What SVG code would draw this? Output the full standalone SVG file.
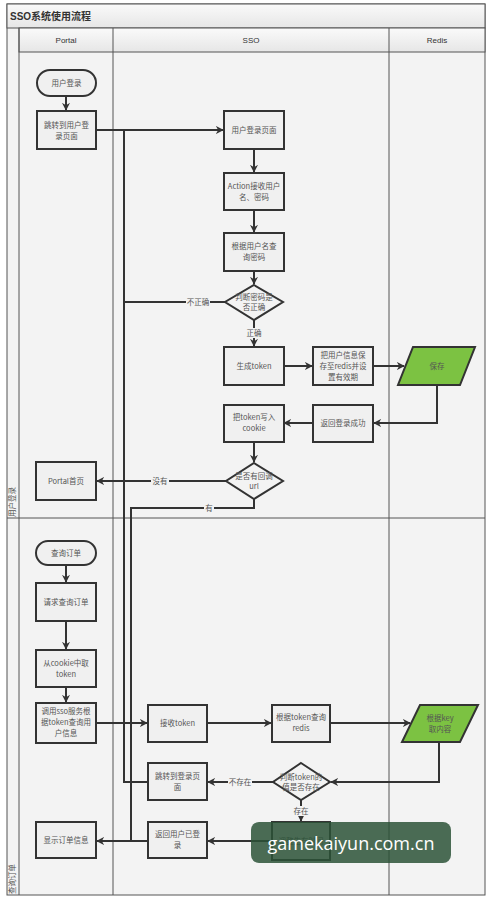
<svg xmlns="http://www.w3.org/2000/svg" width="490" height="902" viewBox="0 0 490 902">
<defs>
<linearGradient id="hdr" x1="0" y1="0" x2="0" y2="1"><stop offset="0" stop-color="#fafafa"/><stop offset="1" stop-color="#e6e6e6"/></linearGradient>
<marker id="ah" viewBox="0 0 10 10" refX="9" refY="5" markerWidth="4" markerHeight="4" orient="auto"><path d="M0,0 L10,5 L0,10 L3,5 Z" fill="#333"/></marker>
<style>
.t{font-family:"Noto Sans CJK SC","Liberation Sans",sans-serif;font-size:7.5px;fill:#555;text-anchor:middle;}
.h{font-family:"Liberation Sans","Noto Sans CJK SC",sans-serif;font-size:8px;fill:#333;text-anchor:middle;}
.lbl{font-family:"Noto Sans CJK SC",sans-serif;font-size:7.5px;fill:#555;text-anchor:middle;}
.box{fill:#f0f0f0;stroke:#333;stroke-width:2;}
.term{fill:#f0f0f0;stroke:#333;stroke-width:2;}
.data{fill:#7cc242;stroke:#333;stroke-width:2;}
.dec{fill:#f3f3f3;stroke:#333;stroke-width:2;}
.c{fill:none;stroke:#333;stroke-width:2;}
.a{marker-end:url(#ah);}
.lane{fill:none;stroke:#555;stroke-width:1;}
.lb{fill:#f3f3f3;}
</style>
</defs>
<rect x="0" y="0" width="490" height="902" fill="#ffffff"/>
<g id="frame">
<rect x="7" y="4" width="478" height="891" fill="#f3f3f3" stroke="#555" stroke-width="1"/>
<rect x="7" y="4" width="478" height="24" fill="url(#hdr)" stroke="#555" stroke-width="1"/>
<text x="10" y="20" font-family="Liberation Sans,'Noto Sans CJK SC',sans-serif" font-size="10" font-weight="bold" fill="#333">SSO系统使用流程</text>
<rect x="19" y="28" width="466" height="24" fill="url(#hdr)" stroke="#555" stroke-width="1"/>
<line class="lane" x1="19" y1="28" x2="19" y2="895"/>
<line class="lane" x1="113" y1="28" x2="113" y2="895"/>
<line class="lane" x1="389" y1="28" x2="389" y2="895"/>
<line class="lane" x1="7" y1="518" x2="485" y2="518"/>
<text class="h" x="66" y="43">Portal</text>
<text class="h" x="251" y="43">SSO</text>
<text class="h" x="437" y="43">Redis</text>
<text class="lbl" transform="translate(15,502) rotate(-90)" font-size="6">用户登录</text>
<text class="lbl" transform="translate(15,879) rotate(-90)" font-size="6">查询订单</text>
</g>
<g id="connectors">
<path class="c a" d="M66,96 V110"/>
<path class="c a" d="M96,130 H223"/>
<path class="c" d="M148,782 H124 V130"/>
<path class="c a" d="M254,149 V172"/>
<path class="c a" d="M254,210 V232"/>
<path class="c a" d="M254,271 V284"/>
<path class="c" d="M227,302 H124"/>
<path class="c a" d="M254,320 V346"/>
<path class="c a" d="M283,366 H312"/>
<path class="c a" d="M373,366 H404"/>
<path class="c a" d="M437,385 V423 H374"/>
<path class="c a" d="M313,423 H284"/>
<path class="c a" d="M254,442 V462"/>
<path class="c a" d="M226,481 H97"/>
<path class="c" d="M254,499 V508 H131 V841"/>
<path class="c a" d="M66,565 V582"/>
<path class="c a" d="M66,621 V649"/>
<path class="c a" d="M66,687 V702"/>
<path class="c a" d="M96,723 H147"/>
<path class="c a" d="M207,723 H271"/>
<path class="c a" d="M330,723 H410"/>
<path class="c a" d="M439,742 V782 H331"/>
<path class="c a" d="M273,782 H208"/>
<path class="c a" d="M301,800 V821"/>
<path class="c a" d="M272,841 H208"/>
<path class="c a" d="M148,841 H97"/>
<rect class="lb" x="186" y="297" width="24" height="10"/>
<text class="lbl" x="198" y="305">不正确</text>
<rect class="lb" x="245" y="328" width="18" height="10"/>
<text class="lbl" x="254" y="336">正确</text>
<rect class="lb" x="151" y="476" width="18" height="10"/>
<text class="lbl" x="160" y="484">没有</text>
<rect class="lb" x="204" y="503" width="10" height="10"/>
<text class="lbl" x="209" y="511">有</text>
<rect class="lb" x="228" y="777" width="24" height="10"/>
<text class="lbl" x="240" y="785">不存在</text>
<rect class="lb" x="292" y="806" width="18" height="10"/>
<text class="lbl" x="301" y="814">存在</text>
</g>
<g id="n_login">
<rect class="term" x="37" y="70" width="59" height="26" rx="13"/>
<text class="t" x="66.5" y="86">用户登录</text>
</g>
<g id="n_redirect">
<rect class="box" x="37" y="111" width="59" height="38"/>
<text class="t" x="66.5" y="128">跳转到用户登</text>
<text class="t" x="66.5" y="139">录页面</text>
</g>
<g id="n_loginpage">
<rect class="box" x="224" y="111" width="60" height="38"/>
<text class="t" x="254" y="133">用户登录页面</text>
</g>
<g id="n_action">
<rect class="box" x="224" y="173" width="60" height="37"/>
<text class="t" x="254" y="189">Action接收用户</text>
<text class="t" x="254" y="200">名、密码</text>
</g>
<g id="n_querypwd">
<rect class="box" x="224" y="233" width="60" height="38"/>
<text class="t" x="254" y="249">根据用户名查</text>
<text class="t" x="254" y="260">询密码</text>
</g>
<g id="n_checkpwd">
<polygon class="dec" points="254,285 283,302 254,320 225,302"/>
<text class="t" x="254" y="300">判断密码是</text>
<text class="t" x="254" y="310">否正确</text>
</g>
<g id="n_gentoken">
<rect class="box" x="224" y="347" width="60" height="38"/>
<text class="t" x="254" y="369">生成token</text>
</g>
<g id="n_saveinfo">
<rect class="box" x="313" y="347" width="60" height="38"/>
<text class="t" x="343" y="358">把用户信息保</text>
<text class="t" x="343" y="369">存至redis并设</text>
<text class="t" x="343" y="380">置有效期</text>
</g>
<g id="n_save">
<polygon class="data" points="413,347 475,347 460,385 398,385"/>
<text class="t" x="437" y="369" fill="#333">保存</text>
</g>
<g id="n_loginok">
<rect class="box" x="313" y="405" width="60" height="37"/>
<text class="t" x="343" y="426">返回登录成功</text>
</g>
<g id="n_cookie">
<rect class="box" x="224" y="405" width="60" height="37"/>
<text class="t" x="254" y="420">把token写入</text>
<text class="t" x="254" y="431">cookie</text>
</g>
<g id="n_callback">
<polygon class="dec" points="254,463 283,481 254,499 226,481"/>
<text class="t" x="254" y="479">是否有回调</text>
<text class="t" x="254" y="489">url</text>
</g>
<g id="n_portalhome">
<rect class="box" x="36" y="462" width="60" height="38"/>
<text class="t" x="66" y="484">Portal首页</text>
</g>
<g id="n_queryorder">
<rect class="term" x="36" y="541" width="60" height="24" rx="12"/>
<text class="t" x="66" y="556">查询订单</text>
</g>
<g id="n_reqorder">
<rect class="box" x="36" y="583" width="60" height="38"/>
<text class="t" x="66" y="605">请求查询订单</text>
</g>
<g id="n_gettoken">
<rect class="box" x="36" y="650" width="60" height="37"/>
<text class="t" x="66" y="666">从cookie中取</text>
<text class="t" x="66" y="677">token</text>
</g>
<g id="n_callsso">
<rect class="box" x="36" y="703" width="60" height="40"/>
<text class="t" x="66" y="714">调用sso服务根</text>
<text class="t" x="66" y="725">据token查询用</text>
<text class="t" x="66" y="736">户信息</text>
</g>
<g id="n_recvtoken">
<rect class="box" x="148" y="705" width="59" height="37"/>
<text class="t" x="177.5" y="726">接收token</text>
</g>
<g id="n_queryredis">
<rect class="box" x="272" y="705" width="58" height="37"/>
<text class="t" x="301" y="720">根据token查询</text>
<text class="t" x="301" y="731">redis</text>
</g>
<g id="n_getcontent">
<polygon class="data" points="420,705 478,705 460,742 402,742"/>
<text class="t" x="440" y="721" fill="#333">根据key</text>
<text class="t" x="440" y="732" fill="#333">取内容</text>
</g>
<g id="n_checktoken">
<polygon class="dec" points="301,763 330,782 301,800 273,782"/>
<text class="t" x="301" y="780">判断token的</text>
<text class="t" x="301" y="790">值是否存在</text>
</g>
<g id="n_tologin">
<rect class="box" x="148" y="763" width="59" height="37"/>
<text class="t" x="177.5" y="779">跳转到登录页</text>
<text class="t" x="177.5" y="790">面</text>
</g>
<g id="n_adjust">
<rect class="box" x="272" y="822" width="58" height="38"/>
<text class="t" x="301" y="844">调整生存时间</text>
</g>
<g id="n_loggedin">
<rect class="box" x="148" y="822" width="59" height="36"/>
<text class="t" x="177.5" y="837">返回用户已登</text>
<text class="t" x="177.5" y="848">录</text>
</g>
<g id="n_showorder">
<rect class="box" x="36" y="822" width="60" height="36"/>
<text class="t" x="66" y="843">显示订单信息</text>
</g>
<g id="watermark">
<rect x="251" y="822" width="200" height="41" rx="8" fill="#2c5237" fill-opacity="0.85"/>
<text x="351" y="850" font-family="'Open Sans','DejaVu Sans',sans-serif" font-size="18" fill="#ffffff" text-anchor="middle">gamekaiyun.com.cn</text>
</g>
</svg>
